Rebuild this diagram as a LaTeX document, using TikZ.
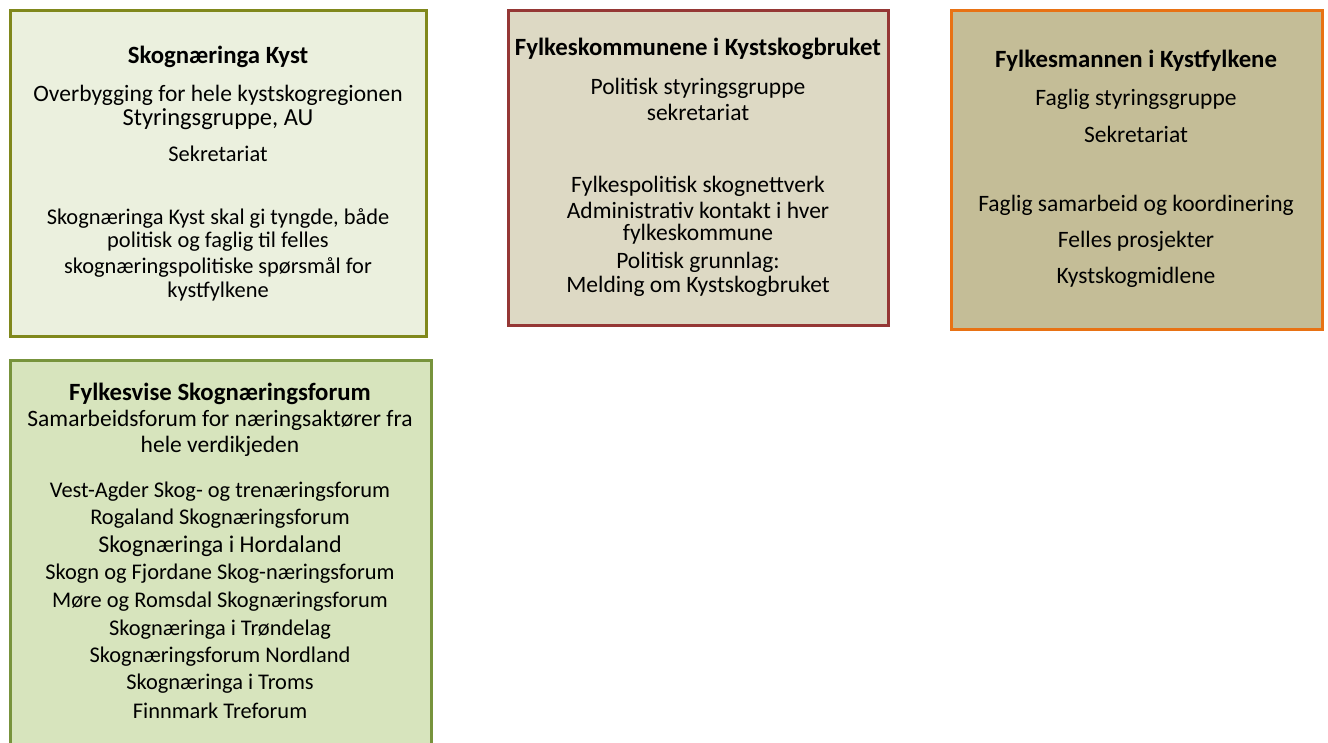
\documentclass[tikz,border=0pt]{standalone}
\usepackage{fontspec}
\setmainfont{Carlito}
\definecolor{bOneFill}{RGB}{235,240,222}
\definecolor{bOneLine}{RGB}{128,136,28}
\definecolor{bTwoFill}{RGB}{221,217,196}
\definecolor{bTwoLine}{RGB}{149,55,53}
\definecolor{bThreeFill}{RGB}{196,189,151}
\definecolor{bThreeLine}{RGB}{232,114,20}
\definecolor{bFourFill}{RGB}{215,228,189}
\definecolor{bFourLine}{RGB}{119,147,60}
\tikzset{
  box/.style={draw, line width=3pt, inner sep=0pt},
  ln/.style={inner sep=0pt, anchor=center, font=\fontsize{23.5}{26}\selectfont},
  sm/.style={inner sep=0pt, anchor=center, font=\fontsize{22.4}{26}\selectfont},
  hd/.style={inner sep=0pt, anchor=center, font=\fontsize{24.8}{27}\selectfont\bfseries},
}
\begin{document}
\begin{tikzpicture}[x=1pt,y=-1pt]
\useasboundingbox (0,0) rectangle (1328,742);
\clip (0,0) rectangle (1328,742);
\fill[white] (0,0) rectangle (1328,742);
% boxes
\draw[box, bOneLine, fill=bOneFill] (10,10) rectangle (426,336);
\node[coordinate] (boxA) at (218,173) {};
\draw[box, bTwoLine, fill=bTwoFill] (508,10) rectangle (888,325);
\node[coordinate] (boxB) at (698,167) {};
\draw[box, bThreeLine, fill=bThreeFill] (951,10) rectangle (1322,329);
\node[coordinate] (boxC) at (1136,170) {};
\draw[box, bFourLine, fill=bFourFill] (10,360) rectangle (431,760);
\node[coordinate] (boxD) at (220,550) {};
% box 1
\node[hd] (a1) at (218,57) {Skognæringa Kyst};
\node[ln] (a2) at (218,95) {Overbygging for hele kystskogregionen};
\node[ln, font=\fontsize{24.5}{26}\selectfont] (a3) at (218,119) {Styringsgruppe, AU};
\node[sm] (a4) at (218,154) {Sekretariat};
\node[sm] (a5) at (218,218) {Skognæringa Kyst skal gi tyngde, både};
\node[sm] (a6) at (218,242) {politisk og faglig til felles};
\node[sm] (a7) at (218,267) {skognæringspolitiske spørsmål for};
\node[sm] (a8) at (218,292) {kystfylkene};
% box 2
\node[hd] (b1) at (698,49) {Fylkeskommunene i Kystskogbruket};
\node[ln] (b2) at (698,88) {Politisk styringsgruppe};
\node[ln] (b3) at (698,112) {sekretariat};
\node[ln] (b4) at (698,186) {Fylkespolitisk skognettverk};
\node[ln] (b5) at (698,210) {Administrativ kontakt i hver};
\node[ln] (b6) at (698,234) {fylkeskommune};
\node[ln] (b7) at (698,262) {Politisk grunnlag:};
\node[ln] (b8) at (698,286) {Melding om Kystskogbruket};
% box 3
\node[hd] (c1) at (1136,61) {Fylkesmannen i Kystfylkene};
\node[ln] (c2) at (1136,99) {Faglig styringsgruppe};
\node[ln] (c3) at (1136,134) {Sekretariat};
\node[ln] (c4) at (1136,205) {Faglig samarbeid og koordinering};
\node[ln] (c5) at (1136,241) {Felles prosjekter};
\node[ln] (c6) at (1136,277) {Kystskogmidlene};
% box 4
\node[hd] (d1) at (220,394) {Fylkesvise Skognæringsforum};
\node[ln] (d2) at (220,420) {Samarbeidsforum for næringsaktører fra};
\node[ln] (d3) at (220,446) {hele verdikjeden};
\node[sm] (d4) at (220,492) {Vest-Agder Skog- og trenæringsforum};
\node[sm] (d5) at (220,519) {Rogaland Skognæringsforum};
\node[ln, font=\fontsize{24}{26}\selectfont] (d6) at (220,546) {Skognæringa i Hordaland};
\node[sm] (d7) at (220,574) {Skogn og Fjordane Skog-næringsforum};
\node[sm] (d8) at (220,602) {Møre og Romsdal Skognæringsforum};
\node[sm] (d9) at (220,630) {Skognæringa i Trøndelag};
\node[sm] (d10) at (220,657) {Skognæringsforum Nordland};
\node[sm] (d11) at (220,684) {Skognæringa i Troms};
\node[sm] (d12) at (220,711) {Finnmark Treforum};
\end{tikzpicture}
\end{document}
